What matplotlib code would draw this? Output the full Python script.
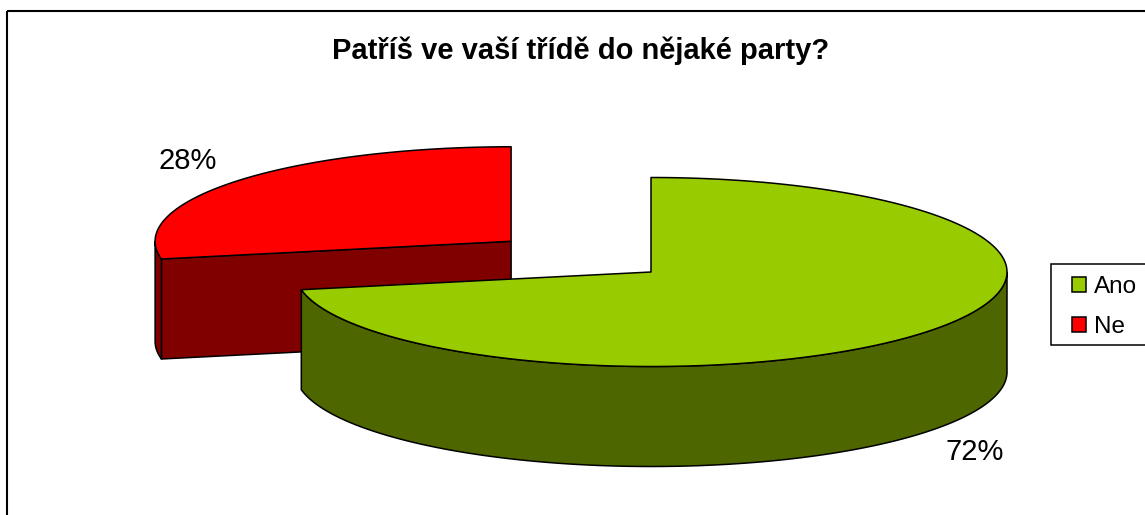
import numpy as np
import matplotlib.pyplot as plt
from matplotlib.patches import Polygon, Patch, Rectangle

plt.rcParams['font.family'] = ['Liberation Sans', 'DejaVu Sans']

# data
categories = ['Ano', 'Ne']
values = [72, 28]
top_colors = ['#99CC00', '#FF0000']
side_colors = ['#4D6600', '#800000']
explode = [0.0, 0.51]
title = 'Patříš ve vaší třídě do nějaké party?'

# geometry of the 3d pie (pixels)
W, H = 1145, 515
cx, cy = 651, 272
rx, ry = 356, 94.5
depth = 100


def ell(x0, y0, t, dz=0):
    t = np.radians(t)
    return np.column_stack([x0 + rx * np.cos(t), y0 - ry * np.sin(t) + dz])


fig = plt.figure(figsize=(W / 100, H / 100), dpi=100)
ax = fig.add_axes([0, 0, 1, 1])
ax.set_xlim(0, W)
ax.set_ylim(H, 0)
ax.axis('off')

# slice angles, clockwise from 12 o'clock
total = sum(values)
starts, ends = [], []
a = 90.0
for v in values:
    starts.append(a)
    a -= v / total * 360
    ends.append(a)

ekw = dict(edgecolor='black', linewidth=1.1, joinstyle='round')

# draw back slice (Ne) first, then front slice (Ano)
for i in [1, 0]:
    t0, t1 = starts[i], ends[i]
    mid = (t0 + t1) / 2
    x0 = cx + explode[i] * rx * np.cos(np.radians(mid))
    y0 = cy - explode[i] * ry * np.sin(np.radians(mid))
    z = 2 * (1 - i)
    # flat cut faces that turn towards the viewer
    for te, sign in [(t0, 1), (t1, -1)]:
        if sign * np.cos(np.radians(te)) < -1e-6:
            p = ell(x0, y0, [te])[0]
            quad = [[x0, y0], p, [p[0], p[1] + depth], [x0, y0 + depth]]
            ax.add_patch(Polygon(quad, closed=True, facecolor=side_colors[i], zorder=z + 1, **ekw))
    # curved outer side, visible on the front half
    ts = np.linspace(t1, t0, 400)
    tsn = np.mod(ts, 360)
    vis = ts[(tsn >= 180) & (tsn <= 360)]
    if len(vis) > 1:
        top = ell(x0, y0, vis)
        bot = ell(x0, y0, vis[::-1], depth)
        ax.add_patch(Polygon(np.vstack([top, bot]), closed=True, facecolor=side_colors[i],
                             zorder=z + 1, **ekw))
    # top face
    arc = ell(x0, y0, np.linspace(t0, t1, 400))
    ax.add_patch(Polygon(np.vstack([[x0, y0], arc]), closed=True, facecolor=top_colors[i],
                         zorder=z + 2, **ekw))
    # percentage label
    s = np.sin(np.radians(mid))
    lx = x0 + 1.18 * rx * np.cos(np.radians(mid))
    ly = y0 - 1.33 * ry * s + (depth if s < 0 else 0)
    ax.text(lx, ly, f'{values[i]}%', fontsize=21, ha='center', va='center', zorder=10)

ax.text(581, 59, title, fontsize=21, fontweight='bold', ha='center', va='baseline')

# outer frame (right and bottom edges fall outside the picture)
ax.add_patch(Rectangle((7, 11), 1300, 700, facecolor='none', edgecolor='black',
                       linewidth=1.5, zorder=20))

# legend box, also running past the right edge
ax.add_patch(Rectangle((1051, 264), 200, 81, facecolor='white', edgecolor='black',
                       linewidth=1.1, zorder=20))
handles = [Patch(facecolor=c, edgecolor='black', linewidth=1.1) for c in top_colors]
leg = ax.legend(handles, categories, loc='upper left', bbox_to_anchor=(1072 / W, 1 - 276 / H),
                fontsize=17.5, frameon=False, handlelength=0.58, handleheight=0.58,
                handletextpad=0.33, borderpad=0, labelspacing=0.75, borderaxespad=0)
leg.set_zorder(30)

fig.savefig('out.png', dpi=100)
